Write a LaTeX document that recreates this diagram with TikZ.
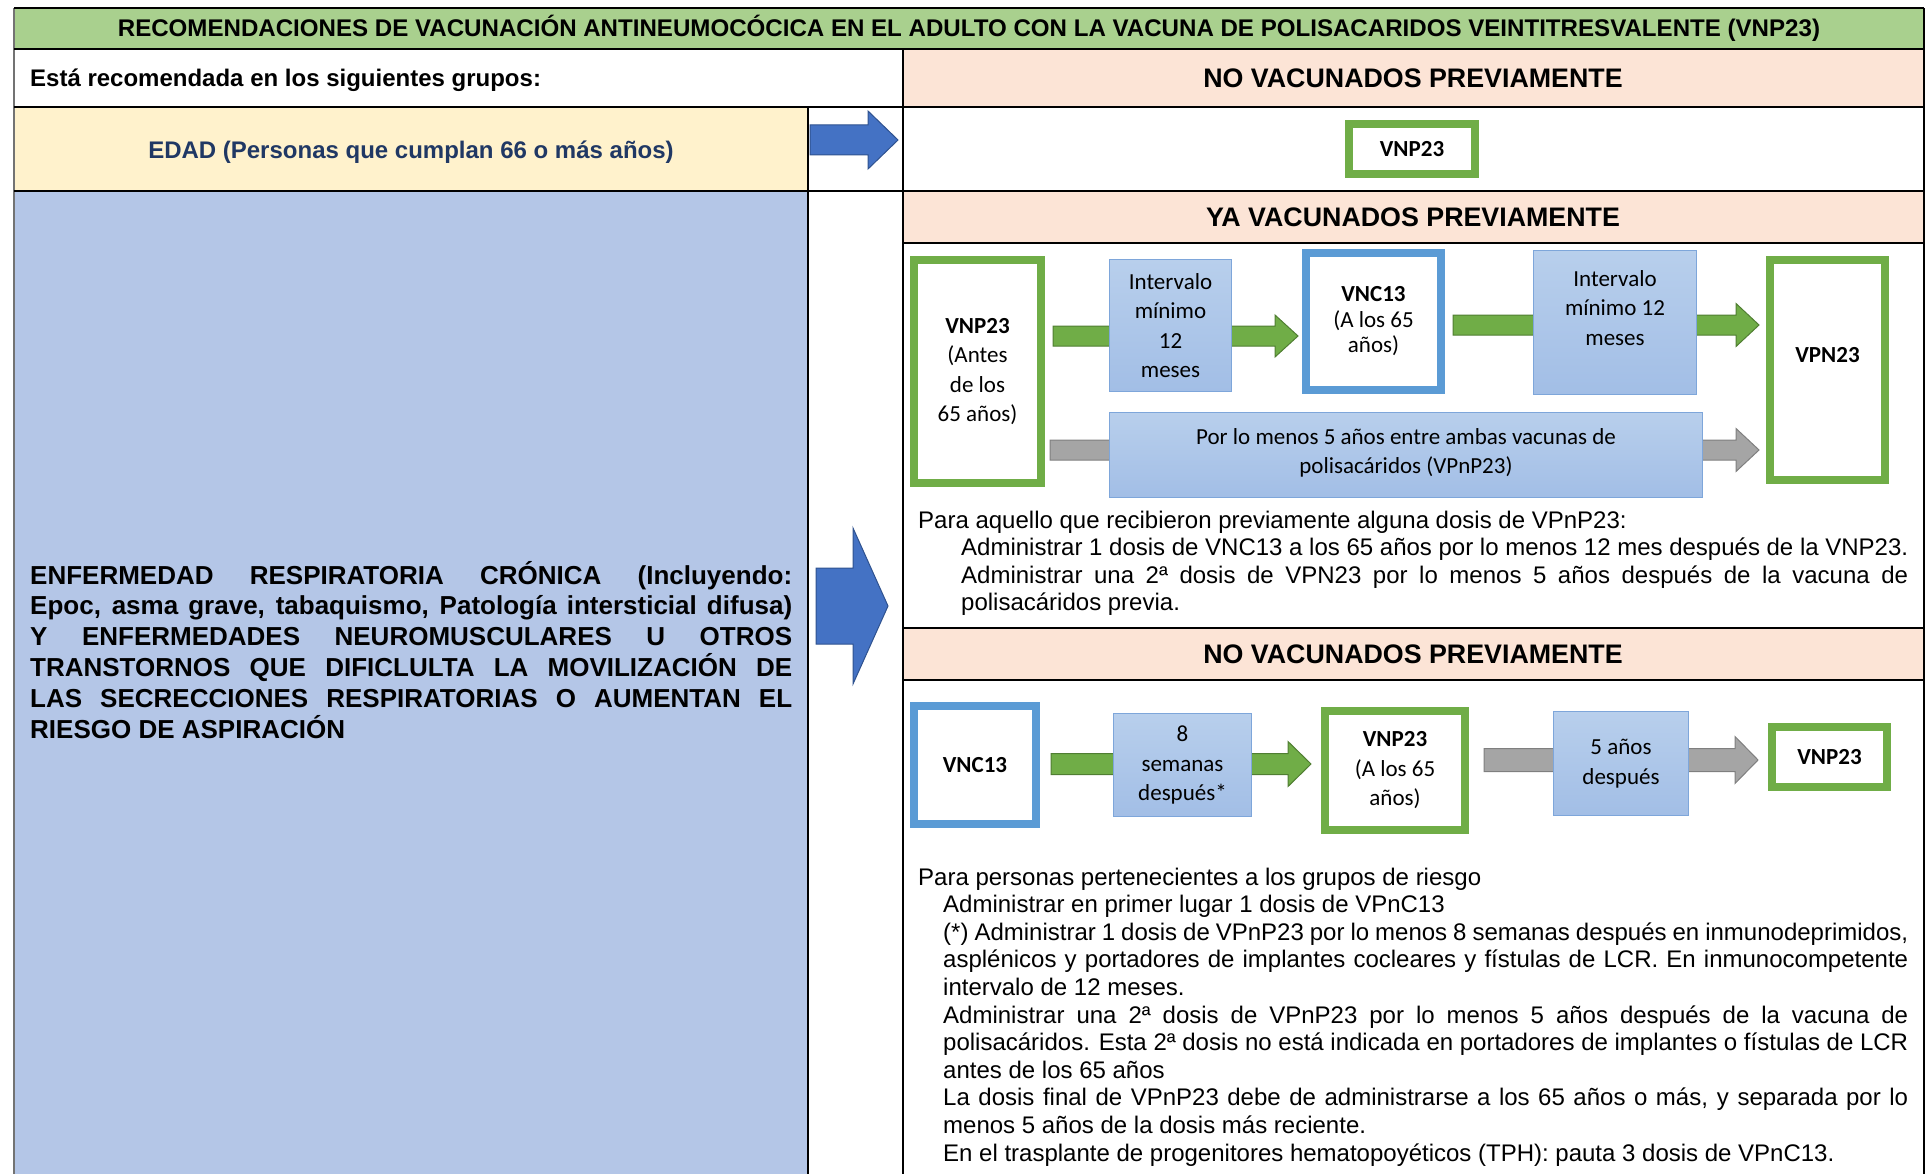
\documentclass[tikz,border=0pt]{standalone}
\usepackage{fontspec}
\setmainfont{Liberation Sans}
\newfontfamily\calib{Carlito}
\usetikzlibrary{calc}
\hyphenpenalty=10000

\definecolor{titlegreen}{HTML}{A9D08E}
\definecolor{hdrpink}{HTML}{FCE4D6}
\definecolor{edadyellow}{HTML}{FFF2CC}
\definecolor{riskblue}{HTML}{B4C6E7}
\definecolor{edadnavy}{HTML}{203864}
\definecolor{vgreen}{HTML}{70AD47}
\definecolor{vgreenedge}{HTML}{507E32}
\definecolor{vblue}{HTML}{5B9BD5}
\definecolor{arrblue}{HTML}{4472C4}
\definecolor{arrblueedge}{HTML}{2F528F}
\definecolor{arrgray}{HTML}{A5A5A5}
\definecolor{arrgrayedge}{HTML}{7F7F7F}
\definecolor{gaptop}{HTML}{B8CFEC}
\definecolor{gapbot}{HTML}{A2BEE6}
\definecolor{gapedge}{HTML}{7EA6DA}

% flecha gruesa: estilo, inicio, fin, nivel, semi-ancho cuerpo, semi-ancho punta, largo punta
\newcommand{\blockarrow}[7]{%
  \draw[#1] let \p1=#2, \p2=#3, \p3=(0,#4) in
    (\x1,{\y3+#5pt}) -- ({\x2-#7pt},{\y3+#5pt}) -- ({\x2-#7pt},{\y3+#6pt})
    -- (\x2,\y3) -- ({\x2-#7pt},{\y3-#6pt}) -- ({\x2-#7pt},{\y3-#5pt})
    -- (\x1,{\y3-#5pt}) -- cycle;}

\begin{document}
\begin{tikzpicture}[x=1pt,y=-1pt,
  tbl/.style={line width=2.5pt},
  col/.style={line width=1.5pt},
  hdr/.style={inner sep=0pt,font=\fontsize{26.8}{30}\selectfont\bfseries},
  lbl/.style={inner sep=0pt,font=\fontsize{24}{28}\selectfont\bfseries},
  note/.style={inner sep=0pt,text width=#1,align=justify,
    font=\fontsize{24}{27.6}\selectfont},
  grnbox/.style={draw=vgreen,line width=8pt,fill=white,align=center,inner sep=0pt,
    font=\calib\fontsize{23}{29.5}\selectfont},
  blubox/.style={grnbox,draw=vblue},
  gapbox/.style={draw=gapedge,line width=1pt,top color=gaptop,bottom color=gapbot,
    align=center,inner sep=0pt,font=\calib\fontsize{23}{29.5}\selectfont},
  greenarr/.style={fill=vgreen,draw=vgreenedge,line width=1pt},
  grayarr/.style={fill=arrgray,draw=arrgrayedge,line width=1pt},
  bluearr/.style={fill=arrblue,draw=arrblueedge,line width=1pt}]
\useasboundingbox (0,0) rectangle (1932,1174);

% fondos de las celdas
\fill[titlegreen] (14,8) rectangle (1924,49);
\fill[hdrpink] (903,49) rectangle (1924,107);
\fill[edadyellow] (14,107) rectangle (808,191);
\fill[riskblue] (14,191) rectangle (808,1174);
\fill[hdrpink] (903,191) rectangle (1924,243);
\fill[hdrpink] (903,628) rectangle (1924,680);

% rejilla
\draw[col,black!55] (14,8) -- (14,1174);
\draw[col] (808,107) -- (808,1174);
\draw[col] (903,49) -- (903,1174);
\draw[col] (1924,8) -- (1924,1174);
\foreach \y in {8,49,107,191}
  \draw[tbl] (14,\y) -- (1924,\y);
\foreach \y in {243,628,680}
  \draw[tbl] (903,\y) -- (1924,\y);

% textos de la tabla
\node[hdr,font=\fontsize{24.1}{28}\selectfont\bfseries] (title) at (969,28)
  {RECOMENDACIONES DE VACUNACIÓN ANTINEUMOCÓCICA EN EL ADULTO CON LA VACUNA DE POLISACARIDOS VEINTITRESVALENTE (VNP23)};
\node[lbl,anchor=west] (grupos) at (30,80) {Está recomendada en los siguientes grupos:};
\node[hdr] (hdrNoA) at (1413,78) {NO VACUNADOS PREVIAMENTE};
\node[lbl,text=edadnavy] (edad) at (411,152) {EDAD (Personas que cumplan 66 o más años)};
\node[hdr] (hdrYa) at (1413,217) {YA VACUNADOS PREVIAMENTE};
\node[hdr] (hdrNoB) at (1413,654) {NO VACUNADOS PREVIAMENTE};
\node[note=762pt,anchor=base west,font=\fontsize{26}{30.8}\selectfont\bfseries] (riesgo) at (30,584)
  {ENFERMEDAD RESPIRATORIA CRÓNICA (Incluyendo:\linebreak
   Epoc, asma grave, tabaquismo, Patología intersticial difusa)\linebreak
   Y ENFERMEDADES NEUROMUSCULARES U OTROS\linebreak
   TRANSTORNOS QUE DIFICLULTA LA MOVILIZACIÓN DE\linebreak
   LAS SECRECCIONES RESPIRATORIAS O AUMENTAN EL\linebreak
   RIESGO DE ASPIRACIÓN};

% flechas azules
\coordinate (colL) at (808,140);
\coordinate (colR) at (903,140);
\blockarrow{bluearr}{([xshift=2pt]colL)}{([xshift=-5pt]colR)}{140}{15}{29}{30}
\blockarrow{bluearr}{([xshift=8pt]colL)}{([xshift=-15pt]colR)}{606}{38}{78}{35}

\node[grnbox,minimum width=126pt,minimum height=50pt] (vnpTop) at (1412,149) {\textbf{VNP23}};

% ya vacunados
\node[grnbox,minimum width=127pt,minimum height=223pt] (vnpA) at (977.5,371.5)
  {\textbf{VNP23}\\(Antes\\de los\\65 años)};
\node[blubox,minimum width=135pt,minimum height=137pt] (vncA) at (1373.5,321.5)
  {\textbf{VNC13}\\[-4pt](A los 65\\[-4pt]años)};
\node[grnbox,minimum width=115pt,minimum height=220pt] (vpnA) at (1827.5,370)
  {\textbf{VPN23}\\ \mbox{}};
\blockarrow{greenarr}{([xshift=8pt]vnpA.east)}{([xshift=-4pt]vncA.west)}{336}{10}{21}{23}
\blockarrow{greenarr}{([xshift=8pt]vncA.east)}{([xshift=-7pt]vpnA.west)}{325}{10}{21.5}{23}
\blockarrow{grayarr}{([xshift=5pt]vnpA.east)}{([xshift=-7pt]vpnA.west)}{450}{10}{21.5}{23}
\node[gapbox,minimum width=122pt,minimum height=132pt] (intA) at (1170.5,325.5)
  {Intervalo\\mínimo\\12\\meses};
\node[gapbox,minimum width=163pt,minimum height=144pt] (intB) at (1615,322.5)
  {Intervalo\\mínimo 12\\meses\\ \mbox{}};
\node[gapbox,minimum width=593pt,minimum height=85pt] (cincoA) at (1406,455)
  {Por lo menos 5 años entre ambas vacunas de\\polisacáridos (VPnP23)\\[-22pt]\mbox{}};

\node[note=990pt,anchor=base west] (notaYa) at (918,528)
  {Para aquello que recibieron previamente alguna dosis de VPnP23:\par
   {\leftskip=43pt
   Administrar 1 dosis de VNC13 a los 65 años por lo menos 12 mes después de la VNP23.\par
   Administrar una 2ª dosis de VPN23 por lo menos 5 años después de la vacuna de\linebreak
   polisacáridos previa.\par}};

% no vacunados
\node[blubox,minimum width=122pt,minimum height=118pt] (vncB) at (975,765) {\textbf{VNC13}};
\node[grnbox,minimum width=140pt,minimum height=119pt] (vnpB) at (1395,770.5)
  {\textbf{VNP23}\\(A los 65\\años)};
\node[grnbox,minimum width=115pt,minimum height=60pt] (vnpC) at (1829.5,757) {\textbf{VNP23}};
\blockarrow{greenarr}{([xshift=11pt]vncB.east)}{([xshift=-10pt]vnpB.west)}{764}{10.5}{22.5}{23}
\blockarrow{grayarr}{([xshift=15pt]vnpB.east)}{([xshift=-10pt]vnpC.west)}{760}{11.5}{23.5}{23}
\node[gapbox,minimum width=138pt,minimum height=103pt] (semB) at (1182.5,765)
  {8\\semanas\\después*};
\node[gapbox,minimum width=135pt,minimum height=104pt] (anosB) at (1621,763.5)
  {5 años\\después};

\node[note=990pt,anchor=base west] (notaNo) at (918,885)
  {Para personas pertenecientes a los grupos de riesgo\par
   {\leftskip=25pt
   Administrar en primer lugar 1 dosis de VPnC13\par
   (*) Administrar 1 dosis de VPnP23 por lo menos 8 semanas después en inmunodeprimidos,\linebreak
   asplénicos y portadores de implantes cocleares y fístulas de LCR. En inmunocompetente\linebreak
   intervalo de 12 meses.\par
   Administrar una 2ª dosis de VPnP23 por lo menos 5 años después de la vacuna de\linebreak
   polisacáridos. Esta 2ª dosis no está indicada en portadores de implantes o fístulas de LCR\linebreak
   antes de los 65 años\par
   La dosis final de VPnP23 debe de administrarse a los 65 años o más, y separada por lo\linebreak
   menos 5 años de la dosis más reciente.\par
   En el trasplante de progenitores hematopoyéticos (TPH): pauta 3 dosis de VPnC13.\par}};
\end{tikzpicture}
\end{document}
